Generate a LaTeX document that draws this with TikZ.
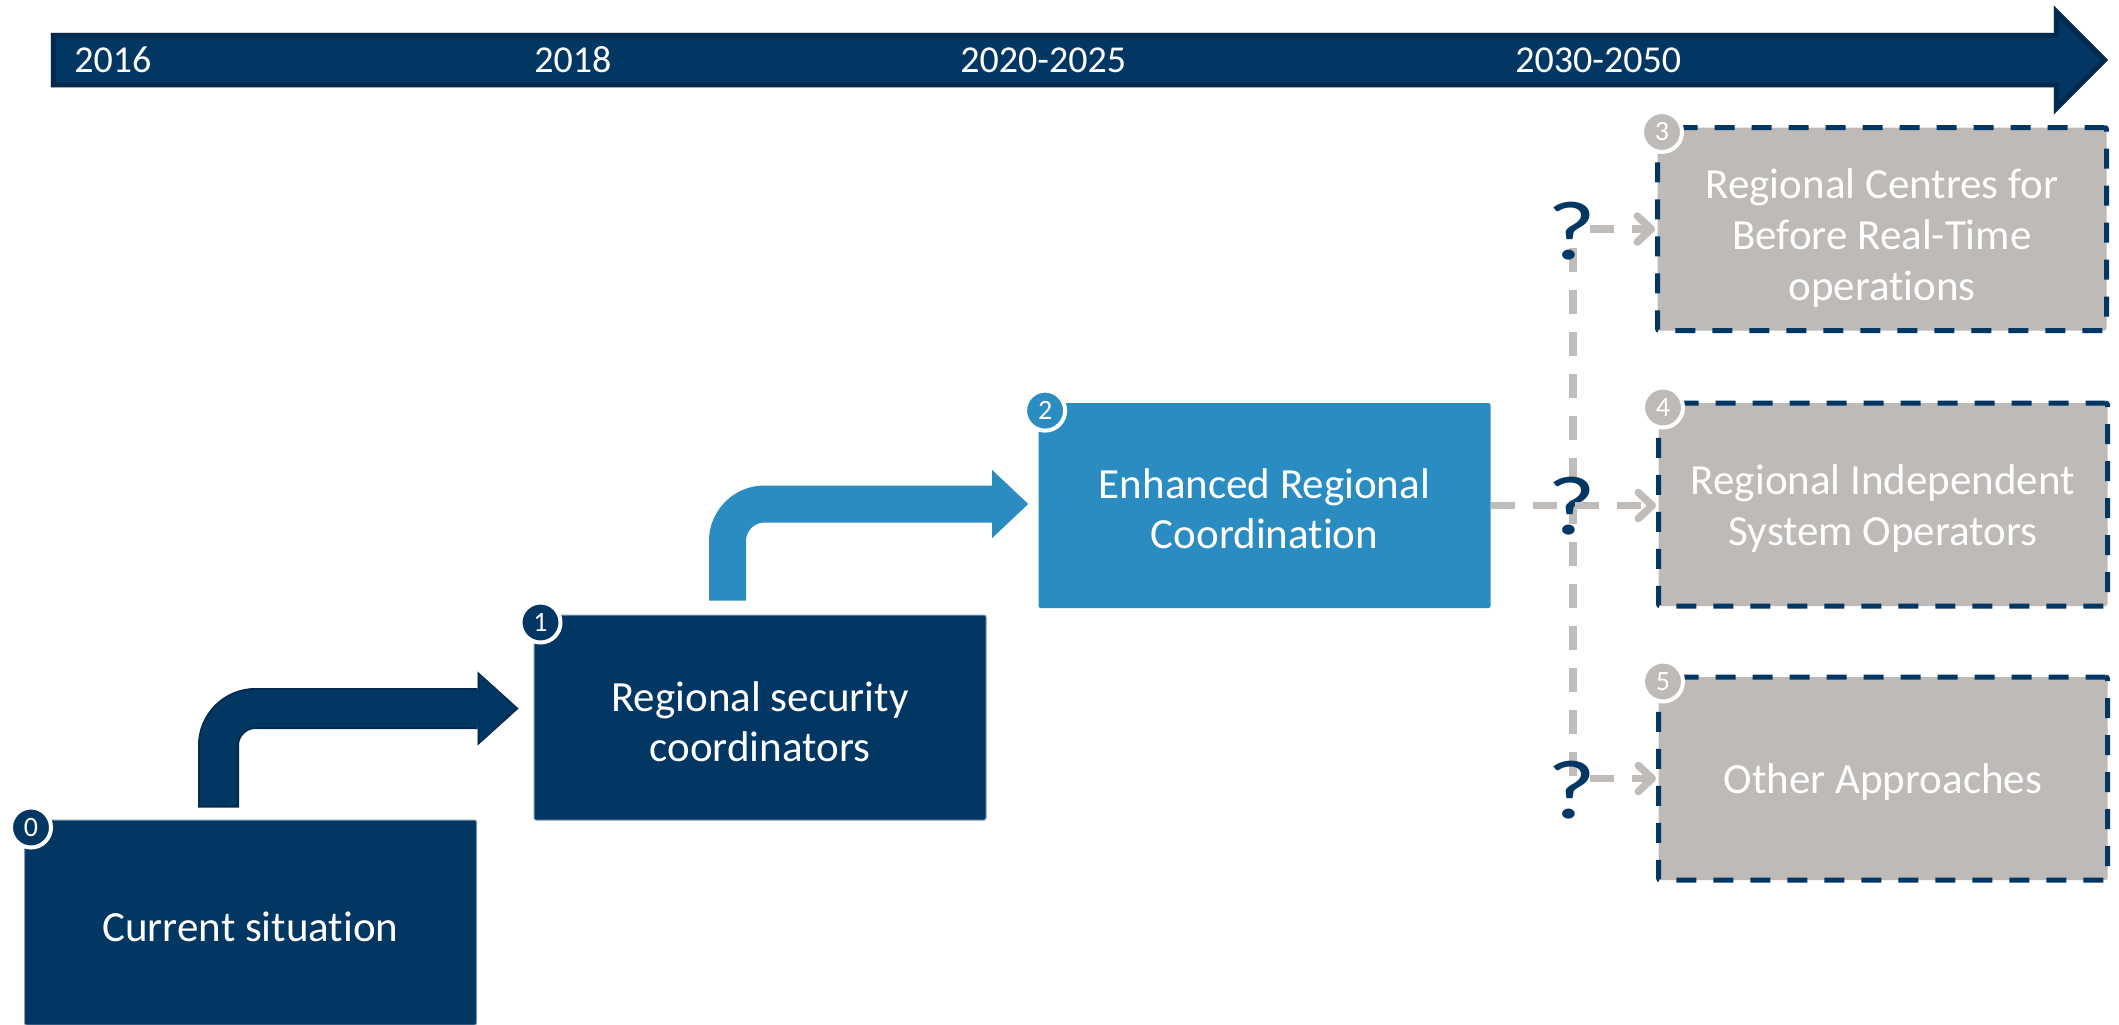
\documentclass[tikz,border=0pt]{standalone}
\usepackage{fontspec}
\setmainfont{Carlito}[Ligatures={NoCommon}]
\usetikzlibrary{arrows.meta,calc}
\definecolor{navy}{HTML}{033763}
\definecolor{navydark}{HTML}{022A4E}
\definecolor{navyedge}{HTML}{8598AD}
\definecolor{lblue}{HTML}{2A8CC1}
\definecolor{boxgray}{HTML}{BDBAB7}
\definecolor{linegray}{HTML}{BFBCB9}
\newcommand{\topstrut}[1]{\rule{0pt}{#1}}
\begin{document}
\begin{tikzpicture}[x=0.5pt,y=-0.5pt,
  box/.style={rectangle, minimum width=226pt, minimum height=102.5pt, inner sep=0pt, align=center, text=white, font=\fontsize{21.5}{25.3}\selectfont, rounded corners=1pt},
  navybox/.style={box, fill=navy, draw=navyedge, line width=0.5pt},
  bluebox/.style={box, fill=lblue},
  graybox/.style={box, fill=boxgray, draw=navy, line width=2.5pt, dash pattern=on 10pt off 8.5pt, minimum width=224.5pt, minimum height=101.5pt},
  badge/.style={circle, minimum size=20pt, inner sep=0pt, draw=white, line width=2pt, text=white, font=\fontsize{14}{15}\selectfont},
  year/.style={anchor=west, text=white, font=\fontsize{19}{21}\selectfont, inner sep=0pt},
  qmark/.style={text=navy, font=\fontsize{42}{44}\selectfont, inner sep=0pt},
  gdash/.style={draw=linegray, line width=3.75pt, dash pattern=on 12pt off 9pt},
  garrow/.style={gdash, -{Straight Barb[round,length=7pt,width=13pt]}},
  bent/.style={line width=18.5pt, rounded corners=18.5pt, -{Triangle[width=34pt,length=18pt,line width=0.1pt]}},
  bentedge/.style={line width=20.5pt, rounded corners=18.5pt, -{Triangle[width=37pt,length=20.5pt,line width=0.1pt]}},
]
\useasboundingbox (0,0) rectangle (2119,1024);
% timeline
\draw[navyedge, line width=0.5pt] (51,33) -- (2054,33) -- (2054,6) -- (2107,60) -- (2054,114) -- (2054,87) -- (51,87) -- cycle;
\filldraw[fill=navy, draw=navydark, line width=2.5pt, line join=miter] (53.5,35.5) -- (2056.5,35.5) -- (2056.5,12) -- (2104.5,60) -- (2056.5,108) -- (2056.5,84.5) -- (53.5,84.5) -- cycle;
\node[year] (y16) at (74,60) {2016};
\node[year] (y18) at (534,60) {2018};
\node[year] (y20) at (960,60) {2020-2025};
\node[year] (y30) at (1515,60) {2030-2050};
% boxes
\node[navybox] (b0) at (250.5,922.5) {\topstrut{19pt}Current situation};
\node[navybox] (b1) at (760,717.5) {\topstrut{19pt}Regional security\\coordinators};
\node[bluebox] (b2) at (1264.5,505.5) {\topstrut{18pt}Enhanced Regional\\Coordination};
\node[graybox] (b3) at (1882,229) {\topstrut{24pt}Regional Centres for\\Before Real-Time\\operations};
\node[graybox] (b4) at (1883,504.5) {\topstrut{19pt}Regional Independent\\System Operators};
\node[graybox] (b5) at (1883,778.5) {\topstrut{18pt}Other Approaches};
% bent arrows
\coordinate (a01s) at ($(b0.north west)+(194.5,-14)$);
\coordinate (a01t) at ($(b1.west)+(-18,-9)$);
\draw[bentedge, navydark] ($(a01s)+(0,2)$) |- ($(a01t)+(3,0)$);
\draw[bent, navy] (a01s) |- (a01t);
\coordinate (a12s) at ($(b1.north west)+(194,-14)$);
\coordinate (a12t) at ($(b2.west)+(-10,-1.5)$);
\draw[bent, lblue] (a12s) |- (a12t);
% badges
\node[badge, fill=navy] (n0) at ($(b0.north west)+(7,8)$) {0};
\node[badge, fill=navy] (n1) at ($(b1.north west)+(7,8)$) {1};
\node[badge, fill=lblue] (n2) at ($(b2.north west)+(7,8)$) {2};
\node[badge, fill=boxgray] (n3) at ($(b3.north west)+(7,7)$) {3};
\node[badge, fill=boxgray] (n4) at ($(b4.north west)+(7,7)$) {4};
\node[badge, fill=boxgray] (n5) at ($(b5.north west)+(7,7)$) {5};
% dashed options
\coordinate (vtop) at (1573,248);
\coordinate (vbot) at (1573,778);
\draw[gdash] (vtop) -- (vbot);
% question marks
\node[qmark] (q3) at (1571.5,231) {\scalebox{1.25}[1]{?}};
\node[qmark] (q4) at (1571.5,506) {\scalebox{1.25}[1]{?}};
\node[qmark] (q5) at (1571.5,790) {\scalebox{1.25}[1]{?}};
\coordinate (h3) at (1590,229);
\draw[garrow] (h3) -- (b3.west);
\draw[garrow] (b2.east) -- (b2.east -| b4.west);
\coordinate (h5) at (1590,778.5);
\draw[garrow] (h5) -- (b5.west);
\end{tikzpicture}
\end{document}
